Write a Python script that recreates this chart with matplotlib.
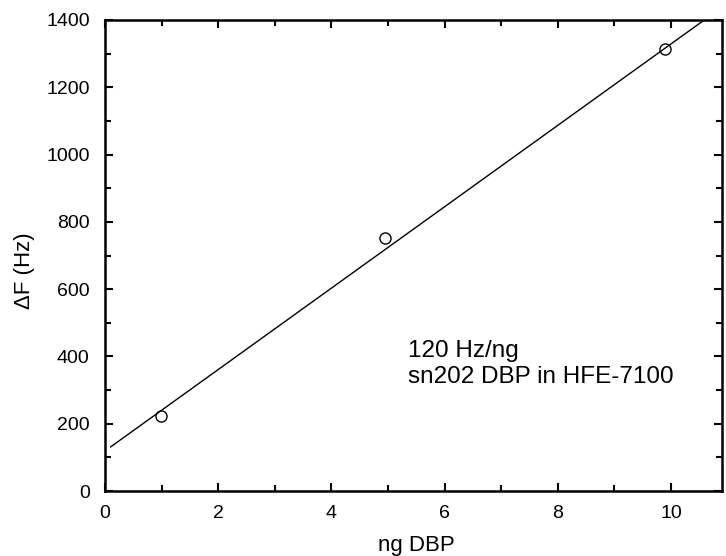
import numpy as np
import matplotlib.pyplot as plt
from matplotlib.ticker import MultipleLocator

plt.rcParams['font.family'] = ['Liberation Sans', 'DejaVu Sans']

# measured points
ng_dbp = [0.99, 4.95, 9.9]
delta_f = [223, 752, 1314]

# fitted line
slope = 121.0
intercept = 119.0
fit_x = [0.1, 10.9]

fig = plt.figure(figsize=(7.26, 5.56), dpi=100)
ax = fig.add_axes([105 / 726, 1 - 491 / 556, 617 / 726, 471 / 556])

fx = np.array(fit_x)
ax.plot(fx, slope * fx + intercept, color='black', lw=1.0)
ax.plot(ng_dbp, delta_f, 'o', mfc='none', mec='black', ms=8, mew=1.0)

ax.set_xlim(0, 10.9)
ax.set_ylim(0, 1400)
ax.xaxis.set_major_locator(MultipleLocator(2))
ax.xaxis.set_minor_locator(MultipleLocator(1))
ax.yaxis.set_major_locator(MultipleLocator(200))
ax.yaxis.set_minor_locator(MultipleLocator(100))
ax.tick_params(which='both', direction='in', top=True, right=True, width=1.5, labelsize=14)
ax.tick_params(which='major', length=6)
ax.tick_params(which='minor', length=4)
ax.tick_params(axis='x', pad=10)
ax.tick_params(axis='y', pad=11)
for s in ax.spines.values():
    s.set_linewidth(1.8)

ax.set_xlabel('ng DBP', fontsize=16, va='center')
ax.set_ylabel('ΔF (Hz)', fontsize=16, va='center')
ax.xaxis.set_label_coords(0.505, -0.115)
ax.yaxis.set_label_coords(-0.131, 0.467)

ax.text(5.35, 448, '120 Hz/ng\nsn202 DBP in HFE-7100', fontsize=17.5, va='top', linespacing=1.2)

fig.savefig('out.png', dpi=100)
